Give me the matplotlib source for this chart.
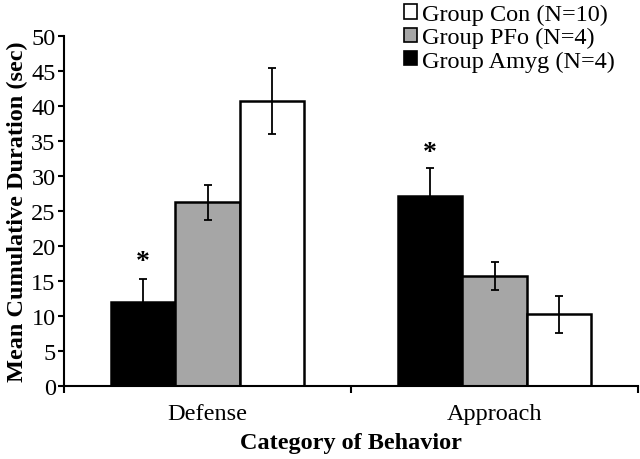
import matplotlib
matplotlib.use("Agg")
import matplotlib.pyplot as plt
import numpy as np

categories = ["Defense", "Approach"]
groups = ["Group Amyg (N=4)", "Group PFo (N=4)", "Group Con (N=10)"]
colors = ["black", "#a6a6a6", "white"]

means = {
    "Group Amyg (N=4)": [12.0, 27.1],
    "Group PFo (N=4)": [26.2, 15.7],
    "Group Con (N=10)": [40.7, 10.2],
}
errors = {
    "Group Amyg (N=4)": [3.3, 4.0],
    "Group PFo (N=4)": [2.5, 2.0],
    "Group Con (N=10)": [4.7, 2.6],
}
star_y = [17.7, 33.3]  # significance markers over the Amyg bars

plt.rcParams["font.family"] = ["Liberation Serif", "DejaVu Serif"]
FS = 17.5

fig = plt.figure(figsize=(6.4, 4.6), dpi=100)
ax = fig.add_axes([0.1, 0.159, 0.897, 0.761])

centers = np.arange(len(categories)) + 0.5
w = 0.225
handles = {}
for i, g in enumerate(groups):
    x = centers + (i - 1) * w
    bars = ax.bar(x, means[g], w, color=colors[i], edgecolor="black",
                  linewidth=1.8, zorder=2, label=g)
    ax.errorbar(x, means[g], yerr=errors[g], fmt="none", ecolor="black",
                elinewidth=1.3, capsize=3, capthick=1.3, zorder=3)
    handles[g] = bars
    if i == 0:
        for xc, ys in zip(x, star_y):
            ax.text(xc, ys, "*", ha="center", va="center", fontsize=20,
                    fontweight="bold")

ax.set_xlim(0, 2)
ax.set_ylim(0, 50)
ax.set_yticks(range(0, 51, 5))
ax.set_xticks([0, 1, 2])
ax.set_xticklabels([])
ax.set_xticks(centers, minor=True)
ax.set_xticklabels(categories, minor=True)
ax.tick_params(axis="x", which="minor", length=0, pad=12, labelsize=FS)
ax.tick_params(axis="x", which="major", direction="out", length=5, width=1.5)
ax.tick_params(axis="y", direction="out", length=4, width=1.5, labelsize=FS, pad=2)
for s in ["top", "right"]:
    ax.spines[s].set_visible(False)
for s in ["left", "bottom"]:
    ax.spines[s].set_linewidth(1.5)

ax.set_ylabel("Mean Cumulative Duration (sec)", fontsize=FS, fontweight="bold",
              labelpad=2)
ax.set_xlabel("Category of Behavior", fontsize=FS, fontweight="bold", labelpad=6)

order = ["Group Con (N=10)", "Group PFo (N=4)", "Group Amyg (N=4)"]
leg = fig.legend([handles[g] for g in order], order, loc="upper left",
                 bbox_to_anchor=(0.616, 1.01), frameon=False, fontsize=FS,
                 handlelength=0.55, handleheight=0.55, handletextpad=0.2,
                 labelspacing=0.08, borderaxespad=0)
for h in leg.legend_handles:
    h.set_linewidth(1.2)

fig.savefig("out.png", dpi=100)
